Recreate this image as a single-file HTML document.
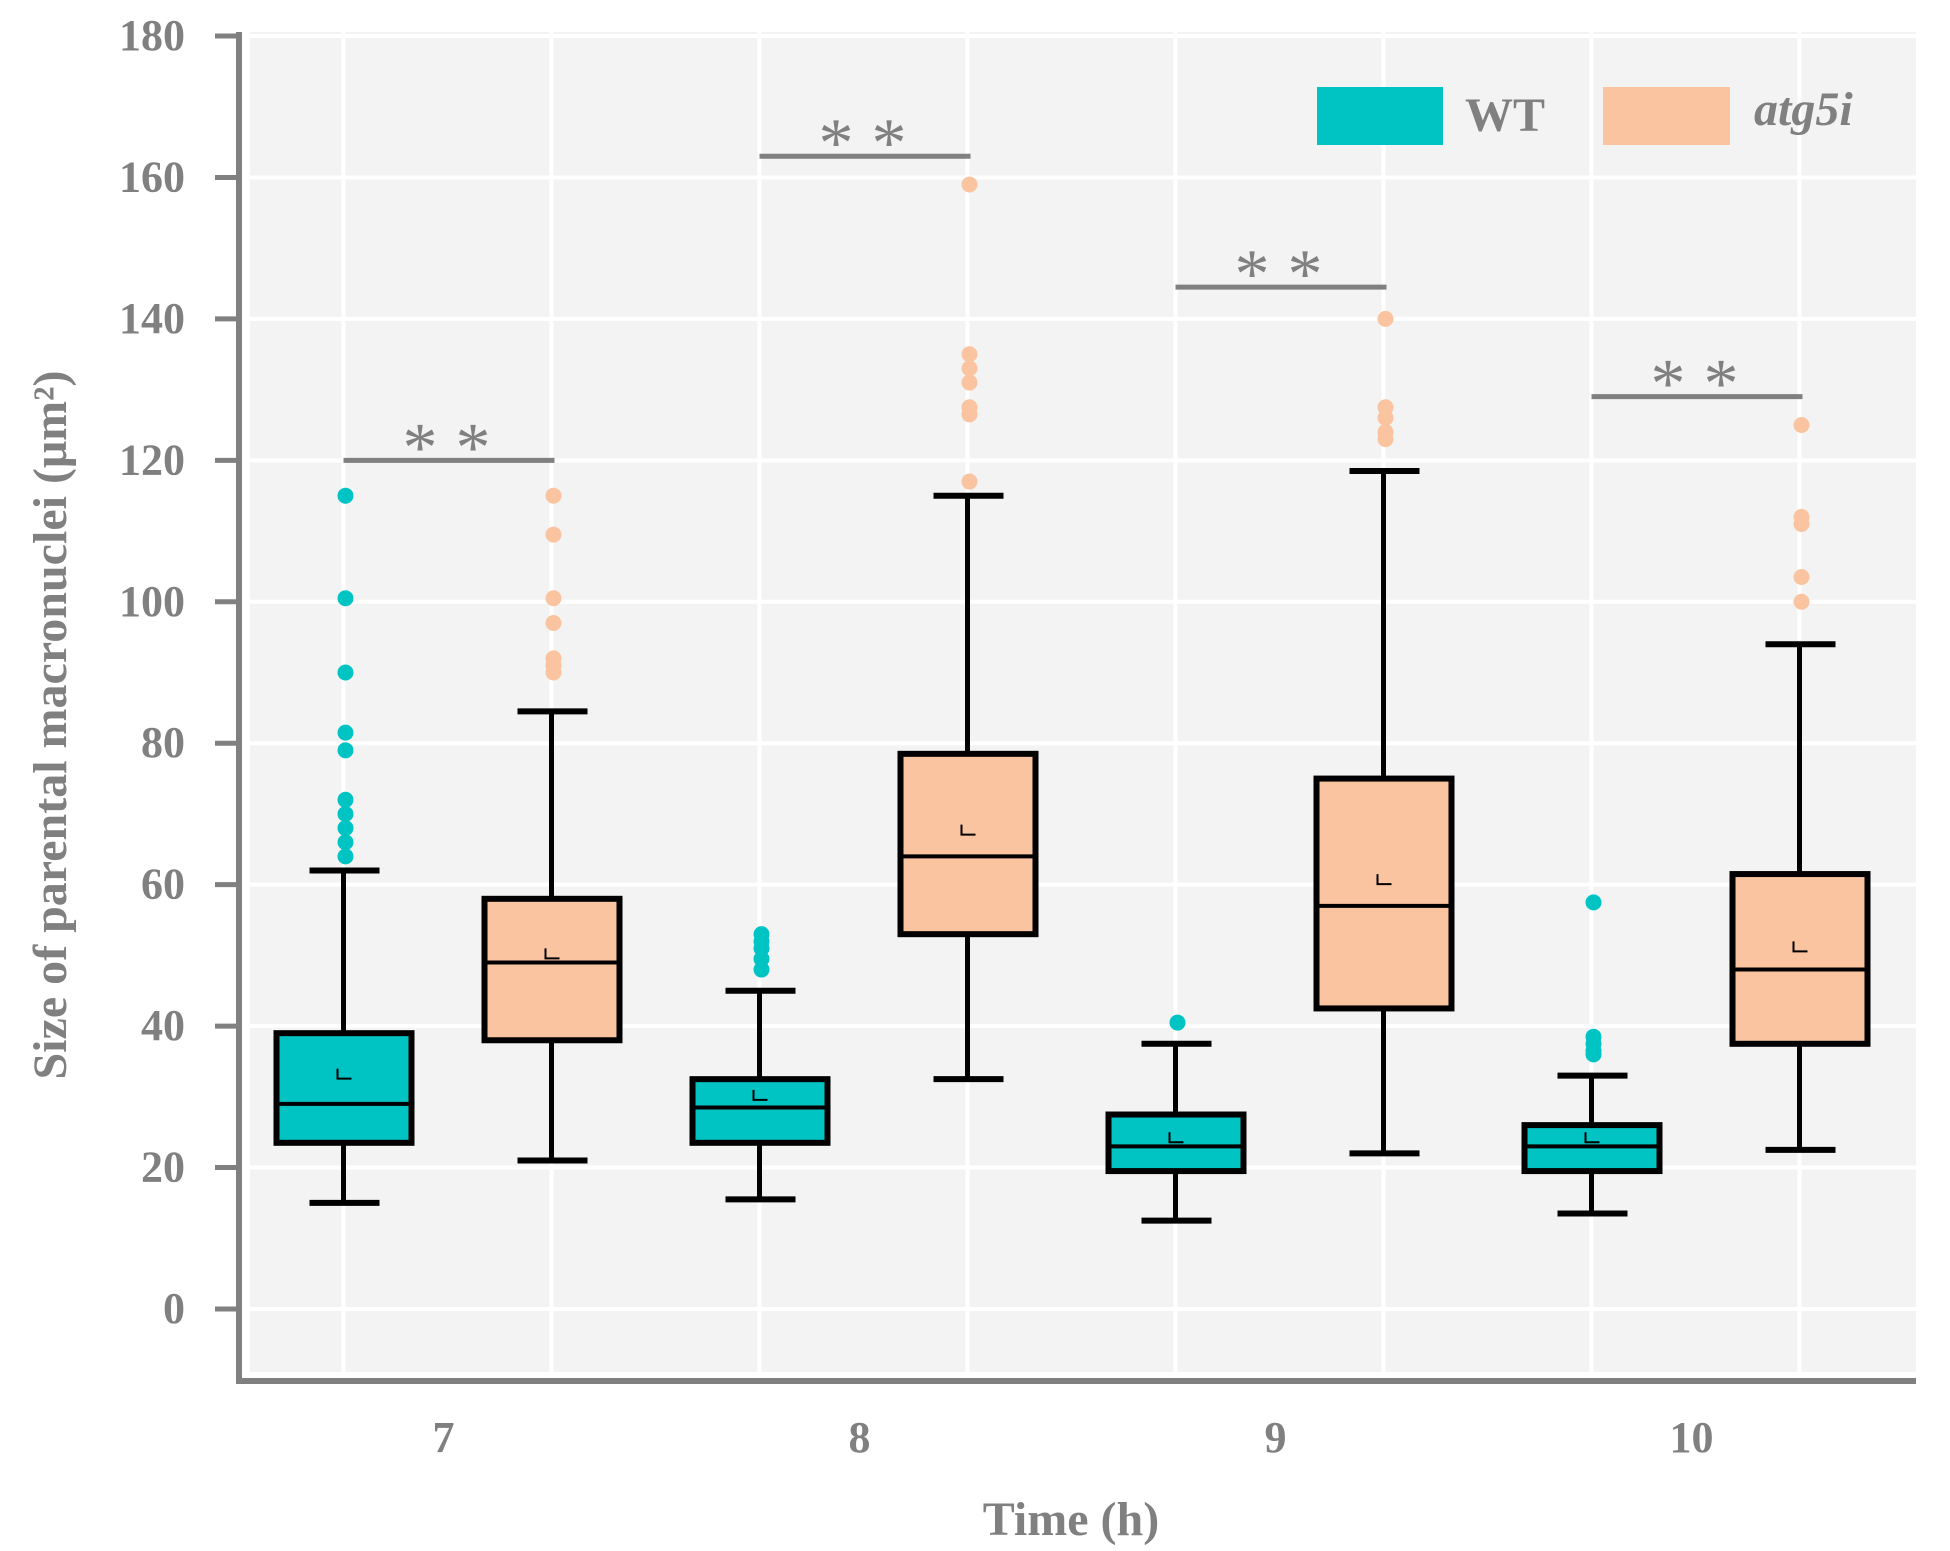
<!DOCTYPE html>
<html><head><meta charset="utf-8"><style>
html,body{margin:0;padding:0;background:#fff;}
svg{display:block;font-family:"Liberation Serif",serif;}
</style></head><body>
<svg id="chart" width="1950" height="1551" viewBox="0 0 1950 1551" xmlns="http://www.w3.org/2000/svg">
<rect x="250" y="32" width="1666" height="1340" fill="#f3f3f3"/>
<g id="grid"></g><g id="axes"></g><g id="marks"></g>
<g>
<rect x="1317" y="87" width="126" height="58" fill="#00c4c4"/>
<text x="1465" y="131" font-size="48" font-weight="bold" fill="#808080">WT</text>
<rect x="1603" y="87" width="127" height="58" fill="#fac4a0"/>
<text x="1754" y="125" font-size="48" font-weight="bold" font-style="italic" fill="#808080">atg5i</text>
</g>
<text transform="translate(66,725) rotate(-90)" text-anchor="middle" font-size="48" font-weight="bold" fill="#808080">Size of parental macronuclei (μm²)</text>
<text x="1071" y="1535" text-anchor="middle" font-size="48" font-weight="bold" fill="#808080">Time (h)</text>
</svg>
<script>
const categories=["7","8","9","10"];
const wtMin=[15,15.5,12.5,13.5], wtQ1=[23.5,23.5,19.5,19.5], wtMed=[29,28.5,23,23], wtQ3=[39,32.5,27.5,26], wtMax=[62,45,37.5,33], wtMean=[33,30,24,24];
const wtOutliers=[[115,100.5,90,81.5,79,72,70,68,66,64],[53,52,51,49.5,48],[40.5],[57.5,38.5,37.5,36.5,36]];
const atgMin=[21,32.5,22,22.5], atgQ1=[38,53,42.5,37.5], atgMed=[49,64,57,48], atgQ3=[58,78.5,75,61.5], atgMax=[84.5,115,118.5,94], atgMean=[50,67.5,60.5,51];
const atgOutliers=[[115,109.5,100.5,97,92,91,90],[159,135,133,131,127.5,126.5,117],[140,127.5,126,124,123],[125,112,111,103.5,100]];
const sigLevels=[120,163,144.5,129];
const yTicks=[0,20,40,60,80,100,120,140,160,180];
const NS="http://www.w3.org/2000/svg";
const y=v=>1309-v*(1273/180);
const groupX=i=>343.5+i*416;
const atgX=i=>groupX(i)+208;
function el(t,a,p){const e=document.createElementNS(NS,t);for(const k in a)e.setAttribute(k,a[k]);p.appendChild(e);return e;}
const grid=document.getElementById('grid'),axes=document.getElementById('axes'),marks=document.getElementById('marks');
yTicks.forEach(t=>{
 const g=el('line',{x1:250,x2:1916,y1:y(t),y2:y(t),stroke:'#fff','stroke-width':4},grid);
 
 
 const tk=el('line',{x1:215,x2:237,y1:y(t),y2:y(t),stroke:'#808080','stroke-width':5},axes);
 
 
 const tl=el('text',{x:185,y:y(t)+14,'text-anchor':'end','font-size':44,'font-weight':'bold',fill:'#808080'},axes);
 tl.textContent=t;
 
 
});
categories.forEach((c,i)=>{
 [groupX(i),atgX(i)].forEach(x=>{const v=el('line',{x1:x,x2:x,y1:32,y2:1372,stroke:'#fff','stroke-width':4},grid);
 
 });
 const xl=el('text',{x:groupX(i)+100,y:1452,'text-anchor':'middle','font-size':44,'font-weight':'bold',fill:'#808080'},axes);
 xl.textContent=c;
 
 
});
const ya=el('line',{x1:239,x2:239,y1:32,y2:1384,stroke:'#808080','stroke-width':6},axes);


const xa=el('line',{x1:236,x2:1916,y1:1381,y2:1381,stroke:'#808080','stroke-width':6},axes);


function box(x,mn,q1,md,q3,mx,mean,outs,fill,ocol,name){
 const g=el('g',{},marks);
 
 
 el('line',{x1:x,x2:x,y1:y(mn),y2:y(mx),stroke:'#000','stroke-width':5},g);
 el('line',{x1:x-34,x2:x+36,y1:y(mn),y2:y(mn),stroke:'#000','stroke-width':6},g);
 el('line',{x1:x-34,x2:x+36,y1:y(mx),y2:y(mx),stroke:'#000','stroke-width':6},g);
 el('rect',{x:x-67,y:y(q3),width:135,height:y(q1)-y(q3),fill:fill,stroke:'#000','stroke-width':6},g);
 el('line',{x1:x-67,x2:x+68,y1:y(md),y2:y(md),stroke:'#000','stroke-width':4},g);
 el('path',{d:`M${x-6} ${y(mean)-7}V${y(mean)+3}H${x+8}`,fill:'none',stroke:'#000','stroke-width':2},g);
 outs.forEach(o=>el('circle',{cx:x+2,cy:y(o),r:8,fill:ocol},g));
}
categories.forEach((c,i)=>{
 box(groupX(i),wtMin[i],wtQ1[i],wtMed[i],wtQ3[i],wtMax[i],wtMean[i],wtOutliers[i],'#00c4c4','#00c4c4','box-wt-'+c);
 box(atgX(i),atgMin[i],atgQ1[i],atgMed[i],atgQ3[i],atgMax[i],atgMean[i],atgOutliers[i],'#fac4a0','#fac4a0','box-atg5i-'+c);
 const s=el('line',{x1:groupX(i),x2:atgX(i)+3,y1:y(sigLevels[i]),y2:y(sigLevels[i]),stroke:'#808080','stroke-width':5},marks);
 
 
 const st=el('text',{x:(groupX(i)+atgX(i))/2+8,y:y(sigLevels[i])+10,'text-anchor':'middle','font-size':70,fill:'#808080','letter-spacing':18},marks);
 st.textContent='**';
 
 
});
</script>
</body></html>
